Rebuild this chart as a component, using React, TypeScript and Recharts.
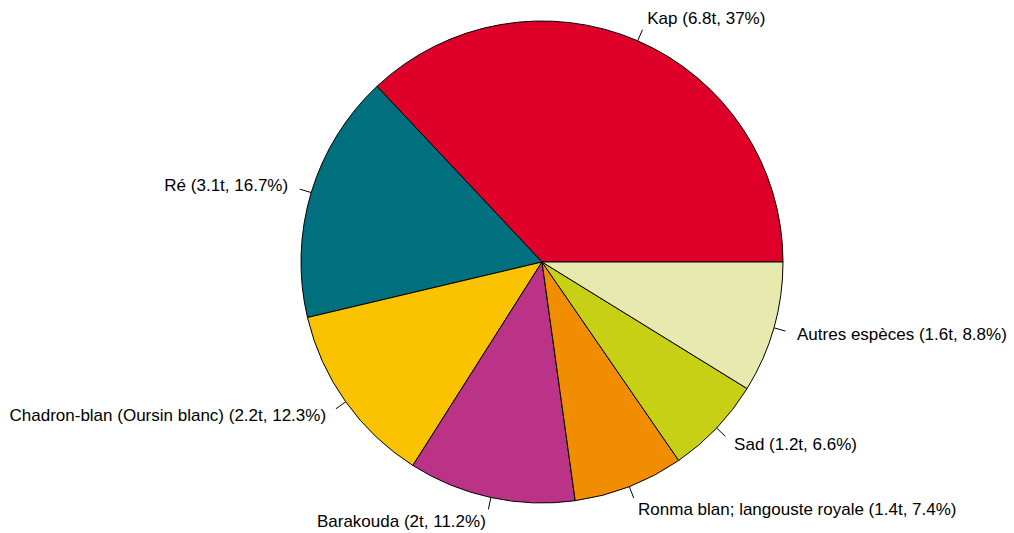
import React from 'react';
import { PieChart, Pie, Cell } from 'recharts';

const species = [
  'Kap',
  'Ré',
  'Chadron-blan (Oursin blanc)',
  'Barakouda',
  'Ronma blan; langouste royale',
  'Sad',
  'Autres espèces',
];
const tonnes = ['6.8', '3.1', '2.2', '2', '1.4', '1.2', '1.6'];
const percents = [37, 16.7, 12.3, 11.2, 7.4, 6.6, 8.8];
const colors = ['#DF0029', '#00707E', '#FBC200', '#BB3386', '#F18D00', '#C8D016', '#E8E9AE'];

const data = species.map((name, i) => ({
  name,
  value: percents[i],
  label: `${name} (${tonnes[i]}t, ${percents[i]}%)`,
}));

const RAD = Math.PI / 180;

function renderLabel(props: any) {
  const { cx, cy, outerRadius, midAngle, payload } = props;
  const cos = Math.cos(-midAngle * RAD);
  const sin = Math.sin(-midAngle * RAD);
  const x1 = cx + outerRadius * cos;
  const y1 = cy + outerRadius * sin;
  const x2 = cx + outerRadius * 1.05 * cos;
  const y2 = cy + outerRadius * 1.05 * sin;
  const tx = cx + outerRadius * 1.1 * cos;
  const ty = cy + outerRadius * 1.1 * sin;
  return (
    <g>
      <line x1={x1} y1={y1} x2={x2} y2={y2} stroke="#000" strokeWidth={1} />
      <text
        x={tx}
        y={ty}
        textAnchor={cos >= 0 ? 'start' : 'end'}
        dominantBaseline="central"
        fontFamily="'Liberation Sans', Arial, sans-serif"
        fontSize={17}
        fill="#000"
      >
        {payload.label}
      </text>
    </g>
  );
}

export default function App() {
  return (
    <div style={{ position: 'absolute', left: 0, top: 0, width: 1014, height: 533, background: '#fff' }}>
      <PieChart width={1014} height={533} margin={{ top: 0, right: 0, bottom: 0, left: 0 }}>
        <Pie
          data={data}
          dataKey="value"
          cx={542}
          cy={262}
          outerRadius={241}
          startAngle={0}
          endAngle={360}
          stroke="#000"
          strokeWidth={1}
          label={renderLabel}
          labelLine={false}
          isAnimationActive={false}
        >
          {data.map((d, i) => (
            <Cell key={d.name} fill={colors[i]} />
          ))}
        </Pie>
      </PieChart>
    </div>
  );
}
